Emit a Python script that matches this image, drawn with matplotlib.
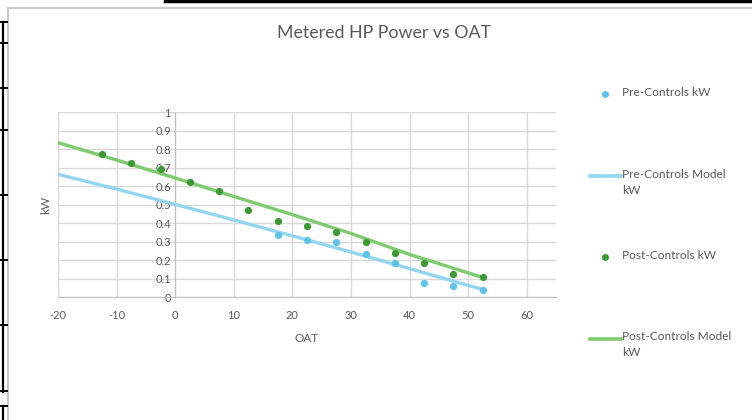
import matplotlib
matplotlib.use("Agg")
import matplotlib.pyplot as plt
from matplotlib.lines import Line2D

# ── data ─────────────────────────────────────────────────────────────────────
pre_oat = [17.5, 22.5, 27.5, 32.5, 37.5, 42.5, 47.5, 52.5]
pre_kw = [0.335, 0.310, 0.301, 0.236, 0.187, 0.079, 0.059, 0.041]

post_oat = [-12.5, -7.5, -2.5, 2.5, 7.5, 12.5, 17.5, 22.5, 27.5,
            32.5, 37.5, 42.5, 47.5, 52.5]
post_kw = [0.775, 0.726, 0.692, 0.623, 0.575, 0.470, 0.414, 0.384, 0.351,
           0.297, 0.239, 0.185, 0.126, 0.110]

model_oat = [-20, -10, 0, 10, 20, 30, 40, 52.5]
pre_model_kw = [0.665, 0.585, 0.502, 0.418, 0.332, 0.245, 0.155, 0.042]
post_model_kw = [0.836, 0.742, 0.645, 0.545, 0.447, 0.345, 0.232, 0.107]

x_ticks = [-20, -10, 0, 10, 20, 30, 40, 50, 60]
y_ticks = [0, 0.1, 0.2, 0.3, 0.4, 0.5, 0.6, 0.7, 0.8, 0.9, 1]
y_labels = ["0", "0.1", "0.2", "0.3", "0.4", "0.5", "0.6", "0.7", "0.8", "0.9", "1"]

C_PRE_PT = "#5EC3EA"
C_PRE_LN = "#92D5F0"
C_POST_PT = "#3B9A33"
C_POST_LN = "#7DCB6E"
C_TXT = "#595959"
C_GRID = "#D9D9D9"

plt.rcParams["font.family"] = ["Lato", "DejaVu Sans"]
plt.rcParams["axes.unicode_minus"] = False

fig = plt.figure(figsize=(7.52, 4.20), dpi=100)
W, H = 752, 420
ax = fig.add_axes([58 / W, 1 - 297.3 / H, (556 - 58) / W, (297.3 - 112.3) / H])

ax.plot(pre_oat, pre_kw, "o", color=C_PRE_PT, ms=5.2, mew=0, zorder=4)
ax.plot(model_oat, pre_model_kw, "-", color=C_PRE_LN, lw=2.4, zorder=3)
ax.plot(post_oat, post_kw, "o", color=C_POST_PT, ms=5.2, mew=0, zorder=4)
ax.plot(model_oat, post_model_kw, "-", color=C_POST_LN, lw=2.4, zorder=3)

ax.set_xlim(-20, 65)
ax.set_ylim(0, 1)
ax.set_xticks(x_ticks)
ax.set_yticks(y_ticks)
ax.set_yticklabels(y_labels)
ax.grid(True, color=C_GRID, lw=1)
ax.set_axisbelow(True)
for s in ["top", "right"]:
    ax.spines[s].set_visible(False)
ax.spines["left"].set_position(("data", 0))
ax.spines["left"].set_color("#BFBFBF")
ax.spines["bottom"].set_color("#BFBFBF")
ax.tick_params(length=0, labelsize=8, colors=C_TXT)
ax.tick_params(axis="x", pad=9)
ax.tick_params(axis="y", pad=3)

ax.set_xlabel("OAT", fontsize=8.5, color=C_TXT, labelpad=9)
fig.text(46 / W, 1 - 205 / H, "kW", rotation=90, fontsize=8.5, color=C_TXT,
         ha="center", va="center")
fig.text(384 / W, 1 - 33 / H, "Metered HP Power vs OAT", fontsize=12.8,
         color=C_TXT, ha="center", va="center")

# ── legend, laid out like Excel's (handle beside the first text line) ─────────
legend_rows = [
    ("Pre-Controls kW", "pt", C_PRE_PT, 94),
    ("Pre-Controls Model\nkW", "ln", C_PRE_LN, 176),
    ("Post-Controls kW", "pt", C_POST_PT, 257),
    ("Post-Controls Model\nkW", "ln", C_POST_LN, 338.5),
]
for label, kind, col, yy in legend_rows:
    yf = 1 - yy / H
    if kind == "pt":
        fig.add_artist(Line2D([605 / W], [yf], marker="o", ms=5, mew=0,
                              color=col, lw=0))
    else:
        fig.add_artist(Line2D([590 / W, 621 / W], [yf, yf], color=col, lw=2.6))
    fig.text(622 / W, yf + 7 / H, label, fontsize=8.6, color=C_TXT,
             ha="left", va="top", linespacing=1.55)

# chart frame and spreadsheet cell borders around it
fig.add_artist(Line2D([8 / W, 8 / W], [0, 1 - 8 / H], color="#BFBFBF", lw=1.2))
fig.add_artist(Line2D([8 / W, 1], [1 - 8 / H, 1 - 8 / H], color="#BFBFBF", lw=1.2))
fig.add_artist(Line2D([165 / W, 1], [1 - 1 / H, 1 - 1 / H], color="black", lw=2.5))
fig.add_artist(Line2D([2.5 / W, 2.5 / W], [1 - 392 / H, 1 - 22 / H], color="black", lw=1.6))
for yy in [22, 43, 88, 130, 195, 260, 325, 391]:
    fig.add_artist(Line2D([0, 7 / W], [1 - yy / H, 1 - yy / H], color="black", lw=1.4))
fig.add_artist(Line2D([2.5 / W, 2.5 / W], [0, 1 - 406 / H], color="black", lw=1.6))
fig.add_artist(Line2D([0, 7 / W], [1 - 406 / H, 1 - 406 / H], color="black", lw=1.4))

fig.savefig("out.png", dpi=100)
